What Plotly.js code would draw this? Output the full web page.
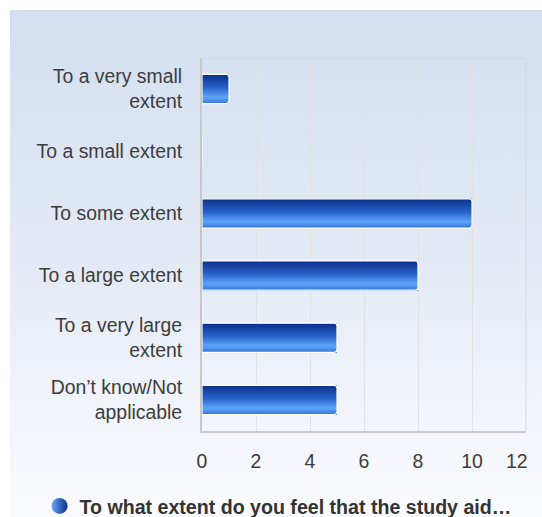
<!DOCTYPE html>
<html>
<head>
<meta charset="utf-8">
<script src="https://cdn.plot.ly/plotly-3.0.1.min.js"></script>
<style>
  html, body { margin: 0; padding: 0; background: #ffffff; }
  #bg { position: absolute; left: 10px; top: 10px; width: 532px; height: 507px;
        background: linear-gradient(to bottom, #d3dff0 0%, #e4eaf5 50%, #fafbfe 100%); }
  #chart { position: absolute; left: 0; top: 0; width: 542px; height: 517px; }
</style>
</head>
<body>
<div id="bg"></div>
<div id="chart"></div>
<script>
// ---- data ----
const categories = [
  "To a very small<br>extent",
  "To a small extent",
  "To some extent",
  "To a large extent",
  "To a very large<br>extent",
  "Don’t know/Not<br>applicable"
];
const values = [1, 0, 10, 8, 5, 5];
const seriesName = "To what extent do you feel that the study aid…";
const xTicks = [0, 2, 4, 6, 8, 10];
const lastTick = "12";

// ---- style helpers ----
const FONT = "Liberation Sans, Arial, sans-serif";
const TXT = "#3c3c3c";
const FS = 19.4;
const barWidth = 0.47;
const stops = [
  [0.00, [11, 47, 138]],
  [0.45, [40, 98, 200]],
  [0.78, [94, 166, 251]],
  [1.00, [50, 116, 216]]
];
function colorAt(t) {
  for (let k = 0; k < stops.length - 1; k++) {
    const [t0, c0] = stops[k], [t1, c1] = stops[k + 1];
    if (t >= t0 && t <= t1) {
      const f = (t - t0) / (t1 - t0);
      const c = c0.map((v, j) => Math.round(v + (c1[j] - v) * f));
      return `rgb(${c[0]},${c[1]},${c[2]})`;
    }
  }
  const c = stops[stops.length - 1][1];
  return `rgb(${c[0]},${c[1]},${c[2]})`;
}

const N = 18;
const traces = [];
for (let i = 0; i < N; i++) {
  traces.push({
    type: "bar",
    orientation: "h",
    y: categories,
    x: values,
    width: barWidth - i * barWidth / N,
    offset: -barWidth / 2 + i * barWidth / N,
    marker: { color: colorAt((i + 0.5) / N), line: { width: 0 } },
    showlegend: false,
    hoverinfo: "skip"
  });
}
// outline
traces.push({
  type: "bar",
  orientation: "h",
  y: categories,
  x: values,
  width: barWidth,
  marker: { color: "rgba(0,0,0,0)", line: { color: "#ffffff", width: 1.2 }, cornerradius: 3 },
  showlegend: false,
  hoverinfo: "skip"
});
// legend entry
traces.push({
  type: "scatter",
  mode: "markers",
  x: [null],
  y: [null],
  name: seriesName,
  marker: { symbol: "circle", size: 20, color: "#6aa6f5",
            gradient: { type: "horizontal", color: "#0b2f8a" } },
  hoverinfo: "skip"
});

const layout = {
  width: 542,
  height: 517,
  margin: { l: 202, r: 16, t: 58, b: 86, pad: 0, autoexpand: false },
  paper_bgcolor: "rgba(0,0,0,0)",
  plot_bgcolor: "rgba(0,0,0,0)",
  barmode: "overlay",
  font: { family: FONT, size: FS, color: TXT },
  xaxis: {
    range: [0, 12],
    tickvals: xTicks,
    ticktext: xTicks.map(String),
    showgrid: true,
    gridcolor: "#dfe1e5",
    gridwidth: 1,
    zeroline: false,
    showline: true,
    linecolor: "#c8c8c8",
    linewidth: 2,
    mirror: false,
    ticks: "",
    ticklabelstandoff: 12,
    tickfont: { family: FONT, size: FS, color: TXT },
    fixedrange: true
  },
  yaxis: {
    type: "category",
    categoryorder: "array",
    categoryarray: categories,
    autorange: "reversed",
    showgrid: false,
    zeroline: false,
    showline: true,
    linecolor: "#c8c8c8",
    linewidth: 2,
    mirror: false,
    ticks: "",
    ticklabelstandoff: 14,
    tickfont: { family: FONT, size: FS, color: TXT },
    fixedrange: true
  },
  shapes: [
    { type: "line", xref: "paper", yref: "paper", x0: 0, x1: 1, y0: 1, y1: 1,
      line: { color: "#d6d8dc", width: 1 } },
    { type: "line", xref: "paper", yref: "paper", x0: 1, x1: 1, y0: 0, y1: 1,
      line: { color: "#d6d8dc", width: 1 } }
  ],
  annotations: [
    { text: lastTick, xref: "x", yref: "paper", x: 11.65, y: 0, yanchor: "top",
      xanchor: "center", yshift: -17, showarrow: false,
      font: { family: FONT, size: FS, color: TXT } }
  ],
  showlegend: true,
  legend: {
    orientation: "h",
    xref: "container",
    yref: "container",
    x: 0.513,
    xanchor: "center",
    y: 0.021,
    yanchor: "middle",
    bgcolor: "rgba(0,0,0,0)",
    font: { family: FONT, size: 19.6, color: "#333333", weight: "bold" },
    itemsizing: "trace"
  }
};

Plotly.newPlot("chart", traces, layout, { displayModeBar: false, staticPlot: true });
</script>
</body>
</html>
